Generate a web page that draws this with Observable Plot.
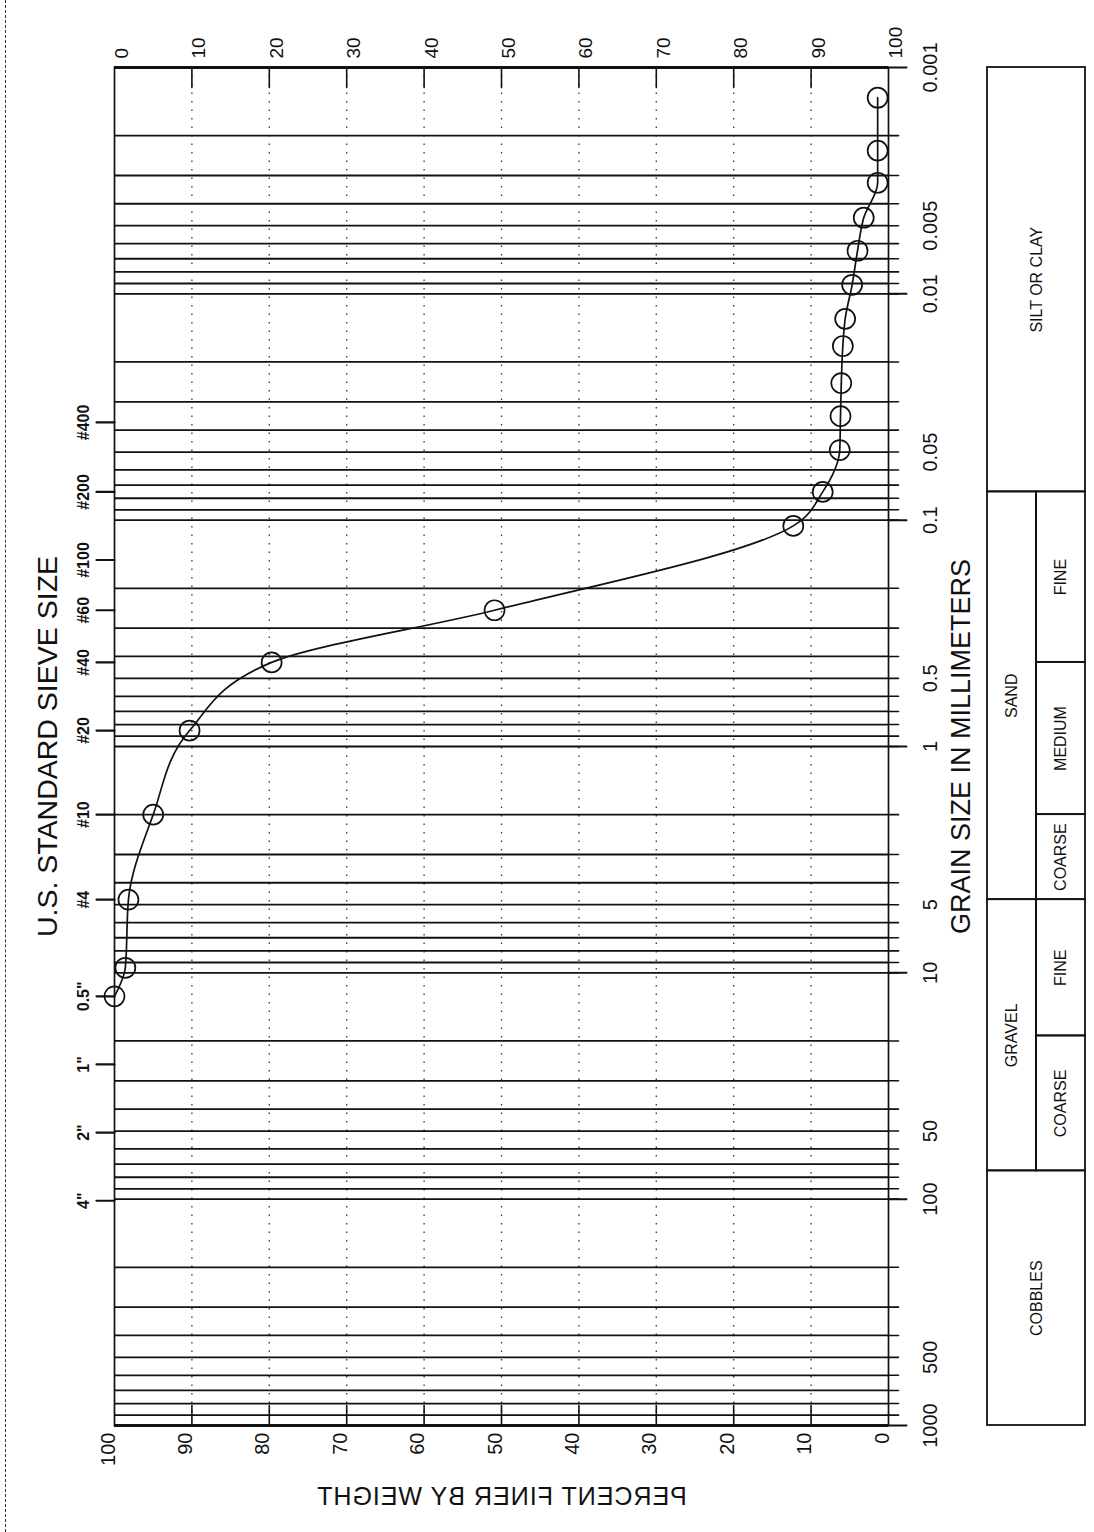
<!DOCTYPE html>
<html>
<head>
<meta charset="utf-8">
<script src="https://cdn.jsdelivr.net/npm/d3@7"></script>
<script src="https://cdn.jsdelivr.net/npm/@observablehq/plot@0.6"></script>
<style>
  html, body { margin: 0; padding: 0; background: #fff; }
  #sheet { position: relative; width: 1094px; height: 1532px; overflow: hidden; background: #fff; }
  #sheet svg { position: absolute; left: 0; top: 0; }
  .edge { position: absolute; left: 5px; top: 0; height: 1532px; border-left: 1.5px dashed #333; }
</style>
</head>
<body>
<div id="sheet"><div class="edge"></div></div>
<script>
// Gradation test: grain size (mm) against percent finer by weight
// (sieve analysis for the coarse fraction, hydrometer readings for the fines)
const grainSize = [0.00136, 0.00233, 0.00323, 0.00461, 0.00645, 0.00912, 0.0129, 0.0170, 0.0248, 0.0347, 0.049, 0.075, 0.106, 0.25, 0.425, 0.85, 2.0, 4.75, 9.5, 12.7];
const percentFiner = [1.4, 1.4, 1.4, 3.2, 4.0, 4.7, 5.6, 5.9, 6.1, 6.2, 6.3, 8.5, 12.3, 50.9, 79.7, 90.3, 95.0, 98.2, 98.6, 100];

// U.S. standard sieves and their openings (mm)
const sieveNames = ["#400", "#200", "#100", "#60", "#40", "#20", "#10", "#4", "0.5\"", "1\"", "2\"", "4\""];
const sieveOpenings = [0.037, 0.075, 0.15, 0.25, 0.425, 0.85, 2.0, 4.75, 12.7, 25.4, 50.8, 101.6];

// Axis ticks
const percentTicks = [0, 10, 20, 30, 40, 50, 60, 70, 80, 90, 100];
const sizeTickLabels = [0.001, 0.005, 0.01, 0.05, 0.1, 0.5, 1, 5, 10, 50, 100, 500, 1000];
const decades = [0.001, 0.01, 0.1, 1, 10, 100, 1000];

// Soil classification bands (mm)
const soilClasses = ["SILT OR CLAY", "SAND", "GRAVEL", "COBBLES"];
const classFrom = [0.001, 0.075, 4.75, 75];
const classTo = [0.075, 4.75, 75, 1000];
const subClasses = ["FINE", "MEDIUM", "COARSE", "FINE", "COARSE"];
const subFrom = [0.075, 0.425, 2, 4.75, 19];
const subTo = [0.425, 2, 4.75, 19, 75];

const samples = grainSize.map((size, i) => ({size, finer: percentFiner[i]}));
const sieves = sieveNames.map((name, i) => ({name, size: sieveOpenings[i]}));

// log-cycle grid: 1..9 x 10^k between 0.001 and 1000
const logGrid = d3.range(-3, 3).flatMap(k => d3.range(1, 10).map(m => +(m * 10 ** k).toPrecision(3)))
  .filter(v => v > 0.001 && v < 1000);
const innerPercent = percentTicks.filter(d => d > 0 && d < 100);

const tickShape = {draw(context, l) { context.moveTo(0, 0); context.lineTo(0, -l); }};
const FONT = "Liberation Sans, Arial, sans-serif";
const NARROW = "Liberation Sans Narrow, Liberation Sans, Arial, sans-serif";
const W = 1094, H = 1532;
const margins = {marginTop: 67, marginBottom: 107};
const ySize = {type: "log", domain: [1000, 0.001], axis: null};

const chart = Plot.plot({
  width: W, height: H,
  marginLeft: 114, marginRight: 206, ...margins,
  style: {background: "transparent", fontFamily: FONT, color: "#111"},
  x: {domain: [100, 0], axis: null},
  y: ySize,
  marks: [
    // grid
    Plot.ruleX(innerPercent, {strokeDasharray: "1.5,7", strokeWidth: 1.3, strokeOpacity: 0.85}),
    Plot.ruleY(logGrid, {strokeWidth: 1.8}),
    Plot.frame({strokeWidth: 1.7}),
    Plot.ruleY([0.001, 1000], {strokeWidth: 2.8}),
    // ticks inside along the top and bottom edges
    Plot.vector(innerPercent, {x: d => d, frameAnchor: "top", rotate: 180, length: 20, anchor: "start", shape: tickShape, strokeWidth: 1.6}),
    Plot.vector(innerPercent, {x: d => d, frameAnchor: "bottom", rotate: 0, length: 20, anchor: "start", shape: tickShape, strokeWidth: 1.6}),
    // grain-size ticks on the right edge
    Plot.vector(logGrid, {y: d => d, frameAnchor: "right", rotate: 90, length: 10, anchor: "start", shape: tickShape, strokeWidth: 1.6}),
    Plot.vector(decades, {y: d => d, frameAnchor: "right", rotate: 90, length: 18, anchor: "start", shape: tickShape, strokeWidth: 2}),
    // sieve ticks on the left edge
    Plot.vector(sieves, {y: "size", frameAnchor: "left", rotate: -90, length: 18, anchor: "start", shape: tickShape, strokeWidth: 2.2}),
    // tick labels
    Plot.text(percentTicks, {x: d => d, text: d => String(100 - d), frameAnchor: "top", dy: -9, rotate: -90, textAnchor: "start", fontSize: 19}),
    Plot.text(percentTicks, {x: d => d, text: d => String(d), frameAnchor: "bottom", dy: 7, rotate: -90, textAnchor: "end", fontSize: 20}),
    Plot.text(sizeTickLabels, {y: d => d, text: d => String(d), frameAnchor: "right", dx: 42, rotate: -90, textAnchor: "middle", fontSize: 20}),
    Plot.text(sieves, {y: "size", text: "name", frameAnchor: "left", dx: -31, rotate: -90, textAnchor: "middle", fontSize: 16, fontWeight: "bold"}),
    // axis titles
    Plot.text(["U.S. STANDARD SIEVE SIZE"], {text: d => d, frameAnchor: "left", dx: -67, rotate: -90, textAnchor: "middle", fontSize: 28.5}),
    Plot.text(["GRAIN SIZE IN MILLIMETERS"], {text: d => d, frameAnchor: "right", dx: 73, rotate: -90, textAnchor: "middle", fontSize: 27}),
    Plot.text(["PERCENT FINER BY WEIGHT"], {text: d => d, frameAnchor: "bottom", dy: 79, textAnchor: "middle", fontSize: 25}),
    // gradation curve and test points
    Plot.line(samples, {x: "finer", y: "size", curve: "monotone-y", strokeWidth: 1.7}),
    Plot.dot(samples, {x: "finer", y: "size", r: 10, fill: "none", stroke: "#111", strokeWidth: 1.7})
  ]
});

// the percent-finer caption is printed mirrored on this sheet
d3.select(chart).selectAll("text")
  .filter(function() { return this.textContent === "PERCENT FINER BY WEIGHT"; })
  .each(function() {
    const t = d3.select(this);
    t.attr("transform", (t.attr("transform") || "") + " scale(-1,1)").style("letter-spacing", "1px");
  });

// classification table beside the chart, sharing the grain-size scale
const bands = soilClasses.map((name, i) => {
  const hasSub = subFrom.some(f => f >= classFrom[i] && f < classTo[i]);
  return {name, from: classFrom[i], to: classTo[i], x1: 0, x2: hasSub ? 1 : 2};
});
const subBands = subClasses.map((name, i) => ({name, from: subFrom[i], to: subTo[i], x1: 1, x2: 2}));
const cells = bands.concat(subBands);

const table = Plot.plot({
  width: W, height: H,
  marginLeft: 987, marginRight: 9, ...margins,
  style: {background: "transparent", fontFamily: NARROW, color: "#111"},
  x: {domain: [0, 2], axis: null},
  y: ySize,
  marks: [
    Plot.rect(cells, {x1: "x1", x2: "x2", y1: "from", y2: "to", fill: "none", stroke: "#111", strokeWidth: 1.8}),
    Plot.text(cells, {x: d => (d.x1 + d.x2) / 2, y: d => Math.sqrt(d.from * d.to), text: "name", rotate: -90, fontSize: 16})
  ]
});

document.getElementById("sheet").append(chart, table);
</script>
</body>
</html>
